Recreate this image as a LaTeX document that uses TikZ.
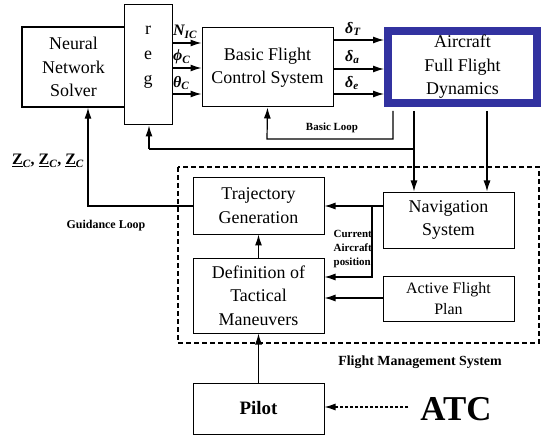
\documentclass[tikz,border=0pt]{standalone}
\usepackage{fontspec}
\setmainfont{Liberation Serif}
\usetikzlibrary{arrows.meta}
\definecolor{acblue}{RGB}{50,50,160}
\begin{document}
\begin{tikzpicture}[x=1bp,y=-1bp,
  box/.style={draw,line width=1pt,fill=white,inner sep=0pt,align=center,font=\fontsize{18}{23.5}\selectfont},
  arr/.style={line width=1.2pt,-{Latex[length=11bp,width=7bp]}},
  ln/.style={line width=1.2pt},
  lbl/.style={inner sep=0pt,font=\bfseries\fontsize{11}{13}\selectfont}]
\useasboundingbox (0,0) rectangle (544,435);
% top row
\node[box,line width=1.4pt,minimum width=103bp,minimum height=80bp] (nn) at (73.5,67) {Neural\\Network\\Solver};
\node[box,minimum width=48bp,minimum height=120bp] (reg) at (148,65) {};
\node[inner sep=0pt,align=center,font=\fontsize{18}{25}\selectfont] (regtxt) at (148,57) {r\\e\\g};
\node[box,minimum width=131bp,minimum height=79bp] (bfcs) at (267.5,67.5) {Basic Flight\\Control System};
\node[box,draw=acblue,line width=8pt,minimum width=149bp,minimum height=72bp] (ac) at (462.5,67) {Aircraft\\Full Flight\\Dynamics};
% reg -> bfcs
\foreach \yy/\nm in {43/a,68/b,94/c}{
  \coordinate (rs\nm) at (reg.east |- 0,\yy);
  \coordinate (bs\nm) at (bfcs.west |- 0,\yy);
  \draw[arr] (rs\nm) -- (bs\nm);
}
\node[inner sep=0pt,anchor=west,font=\bfseries\itshape\fontsize{16}{16}\selectfont] (nic) at (173,32) {N\textsubscript{IC}};
\node[inner sep=0pt,anchor=west,font=\bfseries\itshape\fontsize{16}{16}\selectfont] (phic) at (173,57) {ϕ\textsubscript{C}};
\node[inner sep=0pt,anchor=west,font=\bfseries\itshape\fontsize{16}{16}\selectfont] (thc) at (173,83) {θ\textsubscript{C}};
% bfcs -> ac
\foreach \yy/\nm in {40/a,69/b,94/c}{
  \coordinate (bo\nm) at (bfcs.east |- 0,\yy);
  \coordinate (ai\nm) at (384,\yy);
  \draw[arr] (bo\nm) -- (ai\nm);
}
\node[inner sep=0pt,anchor=west,font=\bfseries\itshape\fontsize{16}{16}\selectfont] (dT) at (345,29) {δ\textsubscript{T}};
\node[inner sep=0pt,anchor=west,font=\bfseries\itshape\fontsize{16}{16}\selectfont] (da) at (345,57) {δ\textsubscript{a}};
\node[inner sep=0pt,anchor=west,font=\bfseries\itshape\fontsize{16}{16}\selectfont] (de) at (345,83) {δ\textsubscript{e}};
% basic loop
\coordinate (bl1) at (393,111);
\coordinate (bl2) at (393,139);
\coordinate (bl3) at (267,139);
\draw[arr] (bl1) -- (bl2) -- (bl3) -- (bfcs.south);
\node[lbl] (bltxt) at (332,128) {Basic Loop};
% FMS
\draw[line width=1.4pt,dash pattern=on 5bp off 3bp] (178,167) rectangle (539,343);
\node[box,minimum width=131bp,minimum height=57bp] (traj) at (258.5,205.5) {Trajectory\\Generation};
\node[box,minimum width=131bp,minimum height=56bp] (nav) at (448.5,220) {Navigation\\System};
\node[box,minimum width=131bp,minimum height=75bp] (def) at (258.5,295.5) {Definition of\\Tactical\\Maneuvers};
\node[box,font=\fontsize{16}{21}\selectfont,minimum width=131bp,minimum height=45bp] (afp) at (448.5,298.5) {Active Flight\\Plan};
\node[box,font=\bfseries\fontsize{19}{22}\selectfont,minimum width=131bp,minimum height=51bp] (pilot) at (258.5,408.5) {Pilot};
\node[inner sep=0pt,font=\bfseries\fontsize{35}{35}\selectfont] (atc) at (456,409) {ATC};
% aircraft -> nav, reg loop
\coordinate (ad1) at (414,111);
\coordinate (ad2) at (487,111);
\coordinate (br1) at (414,149);
\coordinate (br2) at (149,149);
\draw[arr] (ad1) -- (ad1 |- nav.north);
\draw[arr] (ad2) -- (ad2 |- nav.north);
\draw[ln] (br1) -- (br2);
\draw[arr] (br2) -- (br2 |- reg.south);
% guidance loop
\coordinate (g1) at (88,206);
\draw[arr] (traj.west |- g1) -- (g1) -- (g1 |- nn.south);
\node[inner sep=0pt,font=\bfseries\fontsize{16}{16}\selectfont] (zc) at (48,161) {\underline{Z}\textsubscript{\itshape C}, \underline{Z}\textsubscript{\itshape C}, \underline{Z}\textsubscript{\itshape C}};
\node[lbl,font=\bfseries\fontsize{12}{12}\selectfont] (gl) at (106,226) {Guidance Loop};
% nav -> traj, def
\coordinate (n1) at (372,206);
\coordinate (n2) at (372,277);
\draw[arr] (nav.west |- n1) -- (traj.east |- n1);
\draw[arr] (n1) -- (n2) -- (def.east |- n2);
\node[lbl,align=left,anchor=north east,font=\bfseries\fontsize{11}{14}\selectfont] (cap) at (372,230) {Current\\Aircraft\\position};
\draw[arr] (afp.west |- 0,298) -- (def.east |- 0,298);
\draw[arr] (def.north) -- (traj.south);
\draw[arr] (pilot.north) -- (def.south);
\draw[line width=1.2pt,dash pattern=on 3bp off 2bp,-{Latex[length=11bp,width=7bp]}] (atc.west |- 0,407) ++(-12,0) -- (pilot.east |- 0,407);
\node[lbl,font=\bfseries\fontsize{14}{14}\selectfont] (fms) at (420,362) {Flight Management System};
\end{tikzpicture}
\end{document}
